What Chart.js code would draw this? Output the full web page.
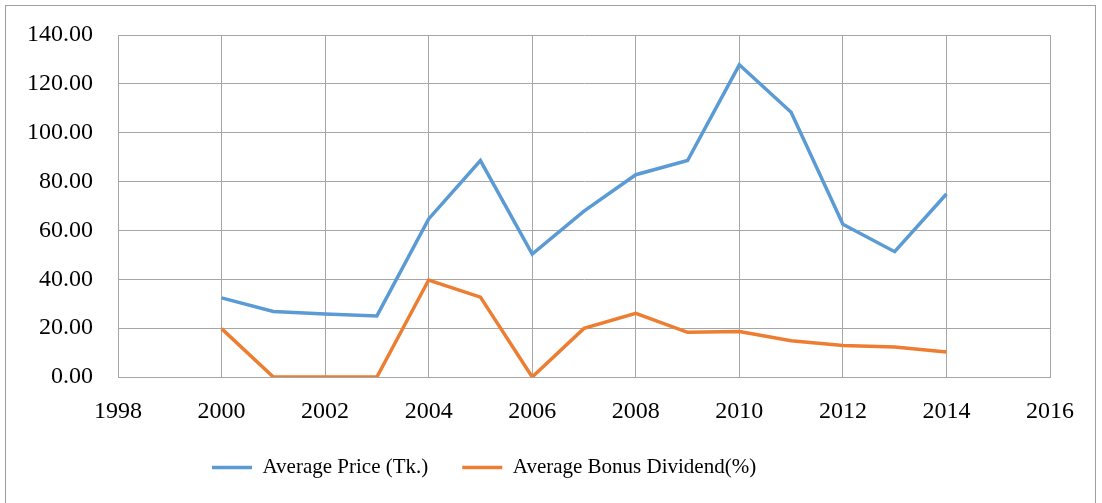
<!DOCTYPE html>
<html>
<head>
<meta charset="utf-8">
<script src="https://cdn.jsdelivr.net/npm/chart.js"></script>
<style>
    html, body { margin: 0; padding: 0; background: #fff; }
    #wrap { position: relative; width: 1102px; height: 503px; }
</style>
</head>
<body>
<div id="wrap"><canvas id="chart" width="1102" height="503"></canvas></div>
<script>
// dados
const years = [2000, 2001, 2002, 2003, 2004, 2005, 2006, 2007, 2008, 2009, 2010, 2011, 2012, 2013, 2014];
const avgPrice = [32.4, 26.8, 25.8, 25.0, 64.7, 88.6, 50.3, 67.9, 82.8, 88.6, 127.8, 108.4, 62.5, 51.3, 74.9];
const avgBonus = [19.8, 0, 0, 0, 39.7, 32.7, 0, 19.9, 26.1, 18.3, 18.6, 14.8, 12.9, 12.3, 10.2];
const xTicks = [1998, 2000, 2002, 2004, 2006, 2008, 2010, 2012, 2014, 2016];
const yTicks = [0, 20, 40, 60, 80, 100, 120, 140];

const FONT = "'Liberation Serif', 'Times New Roman', serif";
const GRID = '#a6a6a6';

function toPoints(values) {
    return years.map((y, i) => ({ x: y, y: values[i] }));
}

// moldura externa do gráfico
const frame = {
    id: 'frame',
    beforeDraw(chart) {
        const ctx = chart.ctx;
        ctx.save();
        ctx.strokeStyle = '#a0a0a0';
        ctx.lineWidth = 1;
        ctx.strokeRect(5.5, 5.5, 1090, 520);
        ctx.restore();
    },
    // a legenda do original fica deslocada para a esquerda
    afterLayout(chart) {
        const lg = chart.legend;
        if (lg) {
            const w = lg.right - lg.left;
            lg.left = 212 - lg.options.labels.padding;
            lg.right = lg.left + w;
        }
    }
};

new Chart(document.getElementById('chart'), {
    type: 'scatter',
    data: {
        datasets: [
            {
                label: 'Average Price (Tk.)',
                data: toPoints(avgPrice),
                showLine: true,
                borderColor: '#5B9BD5',
                backgroundColor: '#5B9BD5',
                borderWidth: 3.5,
                pointRadius: 0,
                pointStyle: 'line',
                tension: 0
            },
            {
                label: 'Average Bonus Dividend(%)',
                data: toPoints(avgBonus),
                showLine: true,
                borderColor: '#ED7D31',
                backgroundColor: '#ED7D31',
                borderWidth: 3.5,
                pointRadius: 0,
                pointStyle: 'line',
                tension: 0
            }
        ]
    },
    options: {
        responsive: false,
        animation: false,
        layout: { padding: { top: 35, right: 52, left: 0, bottom: 15 } },
        scales: {
            x: {
                type: 'linear',
                min: 1998,
                max: 2016,
                afterBuildTicks: scale => { scale.ticks = xTicks.map(v => ({ value: v })); },
                afterFit: scale => { scale.height = 46; },
                grid: { color: GRID, lineWidth: 1, drawTicks: false },
                border: { color: GRID },
                ticks: {
                    color: '#000',
                    padding: 20,
                    maxRotation: 0,
                    font: { family: FONT, size: 24 },
                    callback: v => String(v)
                }
            },
            y: {
                min: 0,
                max: 140,
                afterBuildTicks: scale => { scale.ticks = yTicks.map(v => ({ value: v })); },
                afterFit: scale => {
                    scale.width = 118;
                    scale.paddingTop = 0;
                    scale.paddingBottom = 0;
                },
                grid: { color: GRID, lineWidth: 1, drawTicks: false },
                border: { color: GRID },
                ticks: {
                    color: '#000',
                    padding: 25,
                    font: { family: FONT, size: 24 },
                    callback: v => v.toFixed(2)
                }
            }
        },
        plugins: {
            legend: {
                position: 'bottom',
                align: 'start',
                labels: {
                    usePointStyle: true,
                    pointStyleWidth: 40,
                    color: '#000',
                    padding: 34,
                    font: { family: FONT, size: 21 }
                }
            },
            tooltip: { enabled: false }
        }
    },
    plugins: [frame]
});
</script>
</body>
</html>
